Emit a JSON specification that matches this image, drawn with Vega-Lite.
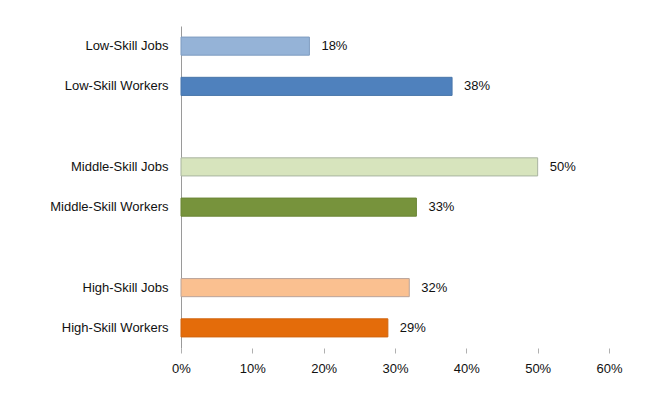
{
  "$schema": "https://vega.github.io/schema/vega-lite/v6.json",
  "autosize": "none",
  "width": 428,
  "height": 322,
  "padding": {"left": 181, "top": 26, "right": 36, "bottom": 49},
  "background": "white",
  "config": {
    "view": {"stroke": null},
    "font": "Liberation Sans",
    "axis": {"labelFont": "Liberation Sans", "labelColor": "#111111", "labelFontSize": 13}
  },
  "data": {
    "values": [
      {"cat": "Low-Skill Jobs", "value": 0.18, "color": "#95b3d7", "stroke": "#7f9cc0"},
      {"cat": "Low-Skill Workers", "value": 0.38, "color": "#4f81bd", "stroke": "#4a76aa"},
      {"cat": "Middle-Skill Jobs", "value": 0.50, "color": "#d7e4bd", "stroke": "#a9b4a0"},
      {"cat": "Middle-Skill Workers", "value": 0.33, "color": "#77933c", "stroke": "#6a8535"},
      {"cat": "High-Skill Jobs", "value": 0.32, "color": "#fac090", "stroke": "#b9a49a"},
      {"cat": "High-Skill Workers", "value": 0.29, "color": "#e46c0a", "stroke": "#d0650f"}
    ]
  },
  "encoding": {
    "y": {
      "field": "cat",
      "type": "nominal",
      "title": null,
      "scale": {
        "domain": ["Low-Skill Jobs", "Low-Skill Workers", "gap1", "Middle-Skill Jobs", "Middle-Skill Workers", "gap2", "High-Skill Jobs", "High-Skill Workers"],
        "paddingInner": 0.55,
        "paddingOuter": 0.275
      },
      "axis": {
        "labelExpr": "indexof(datum.value, 'gap') == 0 ? '' : datum.value",
        "ticks": false,
        "domainColor": "#9a9a9a",
        "labelPadding": 13
      }
    },
    "x": {
      "field": "value",
      "type": "quantitative",
      "title": null,
      "scale": {"domain": [0, 0.6], "nice": false},
      "axis": {
        "values": [0, 0.1, 0.2, 0.3, 0.4, 0.5, 0.6],
        "format": ".0%",
        "grid": false,
        "domain": false,
        "labelFlush": false,
        "tickColor": "#b0b0b0",
        "tickSize": 5,
        "labelPadding": 9
      }
    }
  },
  "layer": [
    {
      "mark": {"type": "bar", "strokeWidth": 1},
      "encoding": {
        "color": {"field": "color", "type": "nominal", "scale": null},
        "stroke": {"field": "stroke", "type": "nominal", "scale": null}
      }
    },
    {
      "mark": {"type": "text", "align": "left", "dx": 12, "fontSize": 13, "color": "#111111"},
      "encoding": {
        "text": {"field": "value", "type": "quantitative", "format": ".0%"}
      }
    }
  ]
}
